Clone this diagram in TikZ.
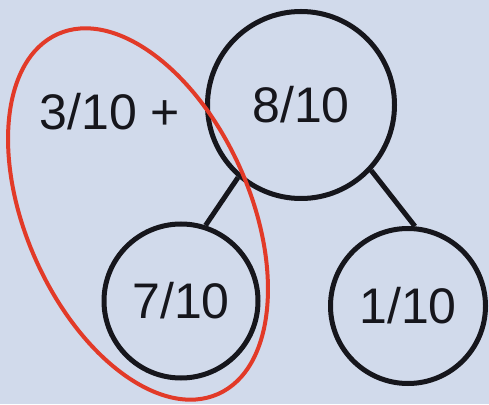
\documentclass[tikz,border=0pt]{standalone}
\usepackage{fontspec}
\setmainfont{Liberation Sans}
\usepackage{xcolor}
\usepackage{tikz}
\definecolor{paper}{RGB}{209,218,235}
\definecolor{ink}{RGB}{22,22,28}
\definecolor{marker}{RGB}{226,58,40}

\begin{document}
\begin{tikzpicture}[x=1pt,y=1pt,
  every node/.style={font=\fontsize{50}{56}\selectfont, text=ink},
  part/.style={circle, draw=ink, line width=5pt, inner sep=0pt},
  link/.style={draw=ink, line width=5pt},
  highlight/.style={draw=marker, line width=4pt}]
\useasboundingbox (0,0) rectangle (489,404);
\fill[paper] (0,0) rectangle (489,404);
\node[part, minimum size=187pt] (whole) at (301,299) {8/10};
\node[part, minimum size=154pt] (left)  at (181,103) {7/10};
\node[part, minimum size=155pt] (right) at (408,98)  {1/10};
\node (rest) at (110,292) {3/10 +};
\draw[link] (whole.229) -- (left.72);
\draw[link] (whole.317) -- (right.85);
\draw[highlight, rotate around={24:(138,190)}] (138,190) ellipse [x radius=112, y radius=197];
\end{tikzpicture}
\end{document}
